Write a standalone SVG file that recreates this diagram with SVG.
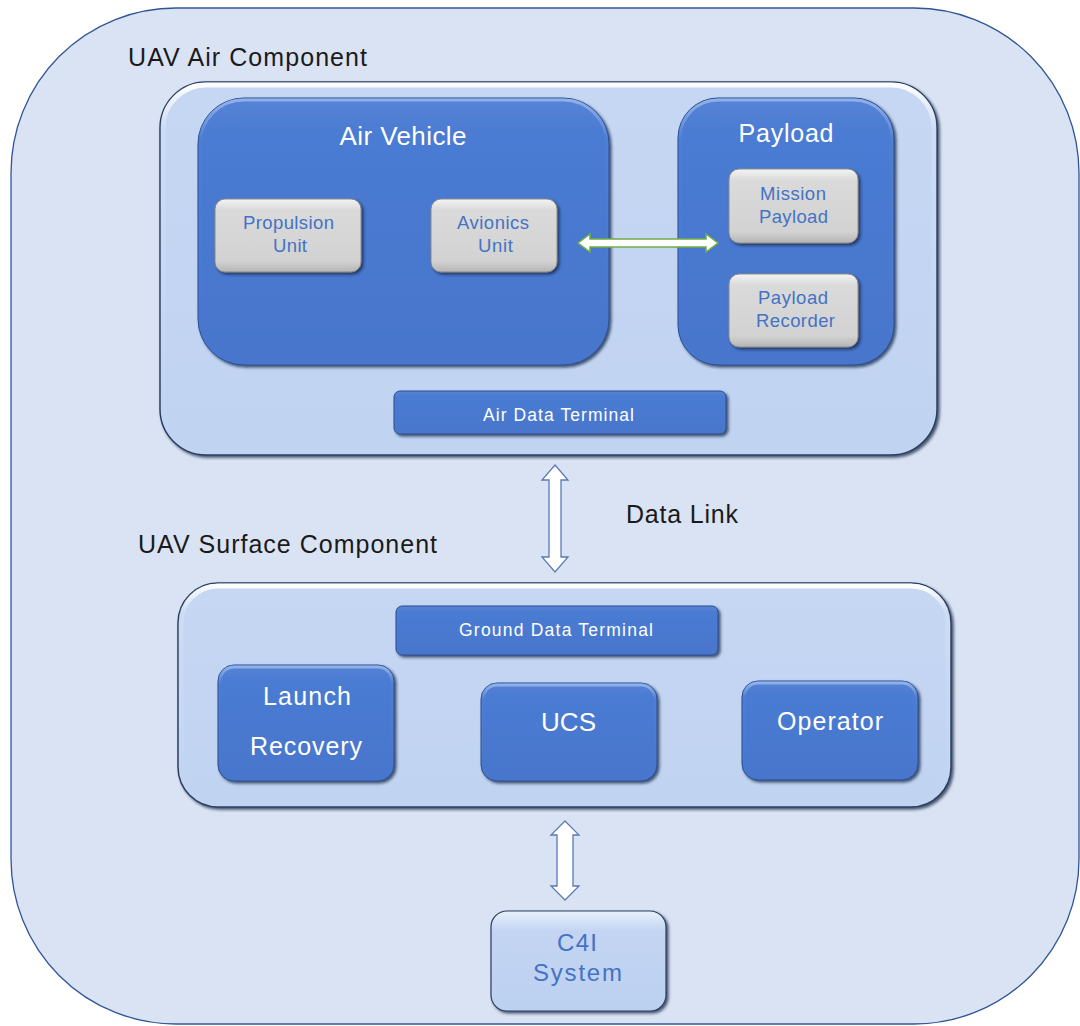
<svg xmlns="http://www.w3.org/2000/svg" width="1080" height="1026" viewBox="0 0 1080 1026">
<defs>
  <filter id="sh" x="-10%" y="-10%" width="130%" height="130%">
    <feDropShadow dx="2" dy="2" stdDeviation="1.6" flood-color="#0f203f" flood-opacity="0.75"/>
  </filter>
  <linearGradient id="gBlue" x1="0" y1="0" x2="0" y2="1">
    <stop offset="0" stop-color="#5683d6"/>
    <stop offset="0.15" stop-color="#4a7bd2"/>
    <stop offset="1" stop-color="#4776cc"/>
  </linearGradient>
  <linearGradient id="gGrey" x1="0" y1="0" x2="0" y2="1">
    <stop offset="0" stop-color="#f4f4f4"/>
    <stop offset="0.15" stop-color="#dadada"/>
    <stop offset="0.85" stop-color="#d2d2d2"/>
    <stop offset="1" stop-color="#b5b5b5"/>
  </linearGradient>
  <linearGradient id="gPanel" x1="0" y1="0" x2="0" y2="1">
    <stop offset="0" stop-color="#c6d7f3"/>
    <stop offset="1" stop-color="#c0d3f1"/>
  </linearGradient>
  <linearGradient id="gHi" x1="0" y1="0" x2="0" y2="1">
    <stop offset="0" stop-color="#ffffff" stop-opacity="0.95"/>
    <stop offset="0.12" stop-color="#ffffff" stop-opacity="0.15"/>
    <stop offset="1" stop-color="#ffffff" stop-opacity="0"/>
  </linearGradient>
  <linearGradient id="gHiB" x1="0" y1="0" x2="0" y2="1">
    <stop offset="0" stop-color="#9ebcef" stop-opacity="0.8"/>
    <stop offset="0.15" stop-color="#9ebcef" stop-opacity="0.05"/>
    <stop offset="1" stop-color="#9ebcef" stop-opacity="0"/>
  </linearGradient>
  <linearGradient id="gC4I" x1="0" y1="0" x2="0" y2="1">
    <stop offset="0" stop-color="#e8f0fb"/>
    <stop offset="0.2" stop-color="#c3d5f2"/>
    <stop offset="1" stop-color="#bcd0f0"/>
  </linearGradient>
  <style>
    .lbl{font-family:"Liberation Sans",Arial,sans-serif;fill:#1a1a1a;font-size:25px}
    .wt{font-family:"Liberation Sans",Arial,sans-serif;fill:#ffffff;text-anchor:middle}
    .bt{font-family:"Liberation Sans",Arial,sans-serif;fill:#4472c4;text-anchor:middle}
    .panel{fill:url(#gPanel);stroke:#2b3f63;stroke-width:1.5;filter:url(#sh)}
    .blue{fill:url(#gBlue);stroke:#2c4f8f;stroke-width:1;filter:url(#sh)}
    .grey{fill:url(#gGrey);stroke:#8a8a8a;stroke-width:1;filter:url(#sh)}
    .hi{fill:none;stroke:url(#gHi);stroke-width:5}
    .hib{fill:none;stroke:url(#gHiB);stroke-width:3}
  </style>
</defs>

<g id="outer">
  <rect x="11" y="8" width="1068" height="1016" rx="165" ry="165" fill="#dae3f3" stroke="#2f5597" stroke-width="1.3"/>
  <text class="lbl" x="128" y="66" textLength="239" lengthAdjust="spacing">UAV Air Component</text>
  <text class="lbl" x="138" y="553" textLength="299" lengthAdjust="spacing">UAV Surface Component</text>
</g>

<g id="air-component">
  <rect class="panel" x="160" y="82" width="777" height="373" rx="46"/>
  <rect class="hi" x="163" y="85" width="771" height="367" rx="43"/>
</g>

<g id="air-vehicle">
  <rect class="blue" x="198" y="98" width="411" height="267" rx="46"/>
  <rect class="hib" x="200" y="100" width="407" height="263" rx="44"/>
  <text class="wt" x="403" y="145" font-size="26" textLength="127" lengthAdjust="spacing">Air Vehicle</text>
</g>

<g id="propulsion-unit">
  <rect class="grey" x="215" y="199" width="146" height="73" rx="10"/>
  <text class="bt" x="288.5" y="229" font-size="18.5" textLength="91" lengthAdjust="spacing">Propulsion</text>
  <text class="bt" x="290" y="252" font-size="18.5" textLength="34" lengthAdjust="spacing">Unit</text>
</g>

<g id="avionics-unit">
  <rect class="grey" x="431" y="199" width="126" height="73" rx="10"/>
  <text class="bt" x="493" y="229" font-size="18.5" textLength="72" lengthAdjust="spacing">Avionics</text>
  <text class="bt" x="495.5" y="252" font-size="18.5" textLength="35" lengthAdjust="spacing">Unit</text>
</g>

<g id="payload">
  <rect class="blue" x="678" y="98" width="216" height="267" rx="40"/>
  <rect class="hib" x="680" y="100" width="212" height="263" rx="38"/>
  <text class="wt" x="786" y="142" font-size="25" textLength="95" lengthAdjust="spacing">Payload</text>
</g>

<g id="mission-payload">
  <rect class="grey" x="729" y="169" width="129" height="74" rx="10"/>
  <text class="bt" x="793" y="200" font-size="18.5" textLength="66" lengthAdjust="spacing">Mission</text>
  <text class="bt" x="793.5" y="223" font-size="18.5" textLength="69" lengthAdjust="spacing">Payload</text>
</g>

<g id="payload-recorder">
  <rect class="grey" x="729" y="274" width="129" height="73" rx="10"/>
  <text class="bt" x="793" y="304" font-size="18.5" textLength="70" lengthAdjust="spacing">Payload</text>
  <text class="bt" x="795.5" y="327" font-size="18.5" textLength="79" lengthAdjust="spacing">Recorder</text>
</g>

<g id="air-data-terminal">
  <rect class="blue" x="394" y="391" width="332" height="43" rx="6"/>
  <text class="wt" x="558.5" y="421" font-size="17.5" textLength="151" lengthAdjust="spacing">Air Data Terminal</text>
</g>

<g id="surface-component">
  <rect class="panel" x="178" y="583" width="773" height="224" rx="40"/>
  <rect class="hi" x="181" y="586" width="767" height="218" rx="37"/>
</g>

<g id="ground-data-terminal">
  <rect class="blue" x="396" y="606" width="322" height="49" rx="6"/>
  <text class="wt" x="556" y="636" font-size="17.5" textLength="194" lengthAdjust="spacing">Ground Data Terminal</text>
</g>

<g id="launch-recovery">
  <rect class="blue" x="218" y="665" width="176" height="116" rx="16"/>
  <rect class="hib" x="220" y="667" width="172" height="112" rx="14"/>
  <text class="wt" x="307" y="705" font-size="25" textLength="88" lengthAdjust="spacing">Launch</text>
  <text class="wt" x="306" y="755" font-size="25" textLength="112" lengthAdjust="spacing">Recovery</text>
</g>

<g id="ucs">
  <rect class="blue" x="481" y="683" width="176" height="98" rx="16"/>
  <rect class="hib" x="483" y="685" width="172" height="94" rx="14"/>
  <text class="wt" x="568.5" y="731" font-size="26" textLength="55" lengthAdjust="spacing">UCS</text>
</g>

<g id="operator">
  <rect class="blue" x="742" y="681" width="176" height="99" rx="16"/>
  <rect class="hib" x="744" y="683" width="172" height="95" rx="14"/>
  <text class="wt" x="830" y="730" font-size="25" textLength="106" lengthAdjust="spacing">Operator</text>
</g>

<g id="c4i-system">
  <rect x="491" y="911" width="175" height="100" rx="16" fill="url(#gC4I)" stroke="#2b3f63" stroke-width="1.2" filter="url(#sh)"/>
  <text class="bt" x="577" y="951" font-size="24" textLength="40" lengthAdjust="spacing">C4I</text>
  <text class="bt" x="577.5" y="981" font-size="24" textLength="89" lengthAdjust="spacing">System</text>
</g>

<g id="connectors">
  <polygon points="578,243 590,234 590,239 706,239 706,234 718,243 706,252 706,247 590,247 590,252" fill="#ffffff" stroke="#70ad47" stroke-width="1.5" stroke-linejoin="miter"/>
  <polygon points="555,465 568,480 561,480 561,557 568,557 555,572 542,557 549,557 549,480 542,480" fill="#ffffff" stroke="#5a7ab5" stroke-width="1.3"/>
  <polygon points="565,821 579,835 573,835 573,886 579,886 565,900 551,886 557,886 557,835 551,835" fill="#ffffff" stroke="#5a7ab5" stroke-width="1.3"/>
  <text class="lbl" x="626" y="523" textLength="112" lengthAdjust="spacing">Data Link</text>
</g>
</svg>
